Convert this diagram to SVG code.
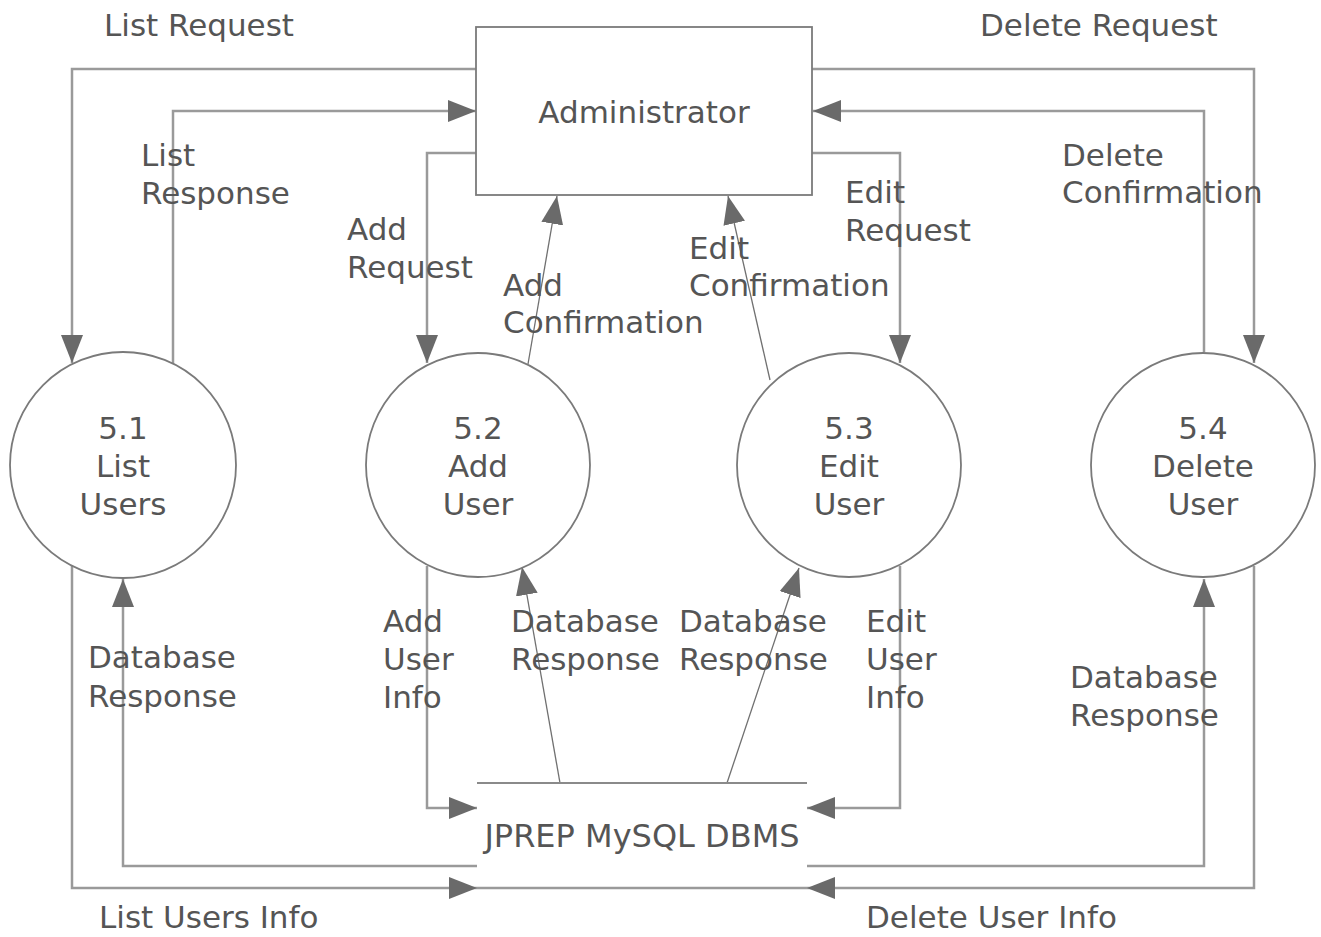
<svg xmlns="http://www.w3.org/2000/svg" width="1321" height="937" viewBox="0 0 1321 937">
<defs>
<marker id="ah" markerUnits="userSpaceOnUse" markerWidth="30" markerHeight="24" refX="28" refY="11" orient="auto">
<path d="M0,0 L28,11 L0,22 z" fill="#6a6a6a"/>
</marker>
<style>
text{font-family:"DejaVu Sans",Verdana,sans-serif;font-size:31px;fill:#555}
.c text,.mid{text-anchor:middle}
.ln{fill:none;stroke:#9a9a9a;stroke-width:2.5}
.dg{fill:none;stroke:#707070;stroke-width:1.3}
.shape{fill:#fff;stroke:#7a7a7a;stroke-width:1.8}
.store{fill:none;stroke:#8a8a8a;stroke-width:1.8}
</style>
</defs>
<rect width="1321" height="937" fill="#fff"/>

<g id="connectors">
<path class="ln" d="M476,69 H72 V363" marker-end="url(#ah)"/>
<path class="ln" d="M173,364 V111 H476" marker-end="url(#ah)"/>
<path class="ln" d="M476,153 H427 V363" marker-end="url(#ah)"/>
<path class="dg" d="M528,364 L557,196" marker-end="url(#ah)"/>
<path class="dg" d="M770,380 L728,196" marker-end="url(#ah)"/>
<path class="ln" d="M812,153 H900 V363" marker-end="url(#ah)"/>
<path class="ln" d="M812,69 H1254 V363" marker-end="url(#ah)"/>
<path class="ln" d="M1204,352 V111 H813" marker-end="url(#ah)"/>
<path class="ln" d="M477,866 H123 V579" marker-end="url(#ah)"/>
<path class="ln" d="M72,566 V888 H477" marker-end="url(#ah)"/>
<path class="ln" d="M427,566 V808 H477" marker-end="url(#ah)"/>
<path class="dg" d="M560,783 L522,567" marker-end="url(#ah)"/>
<path class="dg" d="M727,783 L799,568" marker-end="url(#ah)"/>
<path class="ln" d="M900,566 V808 H807" marker-end="url(#ah)"/>
<path class="ln" d="M807,866 H1204 V579" marker-end="url(#ah)"/>
<path class="ln" d="M1254,566 V888 H807" marker-end="url(#ah)"/>
</g>

<g id="administrator" class="c">
<rect class="shape" x="476" y="27" width="336" height="168"/>
<text x="644" y="123">Administrator</text>
</g>

<g id="p51" class="c">
<circle class="shape" cx="123" cy="465" r="113"/>
<text x="123" y="439">5.1</text>
<text x="123" y="477">List</text>
<text x="123" y="515">Users</text>
</g>

<g id="p52" class="c">
<circle class="shape" cx="478" cy="465" r="112"/>
<text x="478" y="439">5.2</text>
<text x="478" y="477">Add</text>
<text x="478" y="515">User</text>
</g>

<g id="p53" class="c">
<circle class="shape" cx="849" cy="465" r="112"/>
<text x="849" y="439">5.3</text>
<text x="849" y="477">Edit</text>
<text x="849" y="515">User</text>
</g>

<g id="p54" class="c">
<circle class="shape" cx="1203" cy="465" r="112"/>
<text x="1203" y="439">5.4</text>
<text x="1203" y="477">Delete</text>
<text x="1203" y="515">User</text>
</g>

<g id="dbms" class="c">
<path class="store" d="M477,783 H807"/>
<path class="ln" d="M477,888 H807"/>
<text x="642" y="847" style="font-size:32px">JPREP MySQL DBMS</text>
</g>

<g id="labels">
<text x="104" y="36">List Request</text>
<text x="980" y="36">Delete Request</text>
<text x="141" y="166">List</text>
<text x="141" y="204">Response</text>
<text x="347" y="240">Add</text>
<text x="347" y="278">Request</text>
<text x="503" y="296">Add</text>
<text x="503" y="333">Confirmation</text>
<text x="689" y="259">Edit</text>
<text x="689" y="296">Confirmation</text>
<text x="845" y="203">Edit</text>
<text x="845" y="241">Request</text>
<text x="1062" y="166">Delete</text>
<text x="1062" y="203">Confirmation</text>
<text x="88" y="668">Database</text>
<text x="88" y="707">Response</text>
<text x="383" y="632">Add</text>
<text x="383" y="670">User</text>
<text x="383" y="708">Info</text>
<text x="511" y="632">Database</text>
<text x="511" y="670">Response</text>
<text x="679" y="632">Database</text>
<text x="679" y="670">Response</text>
<text x="866" y="632">Edit</text>
<text x="866" y="670">User</text>
<text x="866" y="708">Info</text>
<text x="1070" y="688">Database</text>
<text x="1070" y="726">Response</text>
<text x="99" y="928">List Users Info</text>
<text x="866" y="928">Delete User Info</text>
</g>
</svg>
